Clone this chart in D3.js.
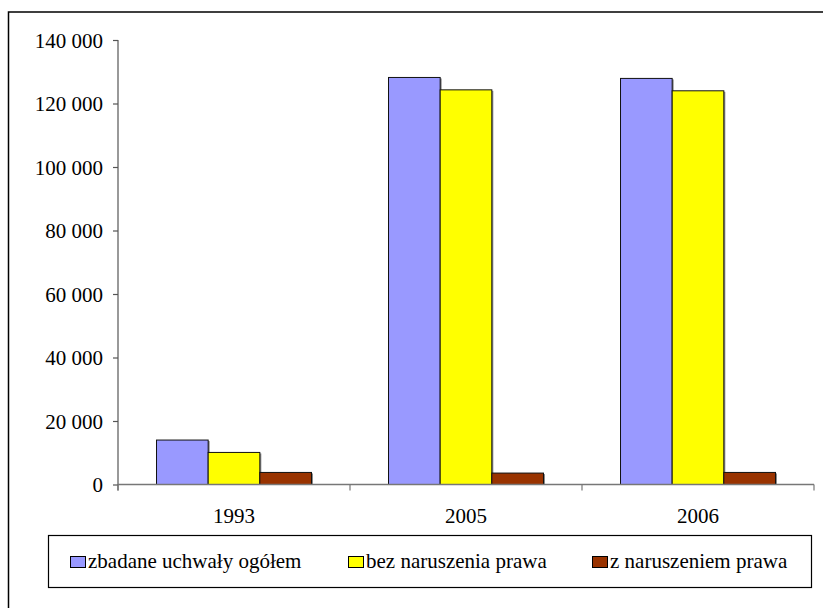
<!DOCTYPE html>
<html>
<head>
<meta charset="utf-8">
<script src="https://cdn.jsdelivr.net/npm/d3@7"></script>
<style>
  html, body { margin: 0; padding: 0; background: #fff; }
  svg { display: block; }
  svg text { font-family: "Times New Roman", Times, "Liberation Serif", Tinos, "Noto Serif", "DejaVu Serif", serif !important; fill: #000; }
</style>
</head>
<body>
<svg id="chart" width="823" height="608"></svg>
<script>
// ---- data ----
const categories = ["1993", "2005", "2006"];
const seriesNames = ["zbadane uchwały ogółem", "bez naruszenia prawa", "z naruszeniem prawa"];
const ogolem = [14000, 128200, 127900];
const bezNaruszenia = [10100, 124300, 124000];
const zNaruszeniem = [3800, 3600, 3800];
const yTicks = [0, 20000, 40000, 60000, 80000, 100000, 120000, 140000];
const colors = ["#9999FF", "#FFFF00", "#993300"];

const seriesValues = [ogolem, bezNaruszenia, zNaruszeniem];
const FONT = '"Times New Roman", Times, "Liberation Serif", Tinos, "Noto Serif", "DejaVu Serif", serif';

const svg = d3.select("#chart");

// outer frame (extends past the picture)
svg.append("rect")
  .attr("x", 8.5).attr("y", 12)
  .attr("width", 900).attr("height", 700)
  .attr("fill", "none").attr("stroke", "#000").attr("stroke-width", 1.5);

const plot = { left: 118, right: 814, top: 40, bottom: 484.5 };

const y = d3.scaleLinear().domain([0, 140000]).range([plot.bottom, plot.top]);
const x0 = d3.scaleBand().domain(categories).range([plot.left, plot.right]).padding(0);
const groupW = x0.bandwidth() * 0.668;
const x1 = d3.scaleBand().domain(d3.range(seriesNames.length)).range([0, groupW]).padding(0);
const groupOffset = (x0.bandwidth() - groupW) / 2;

const loc = d3.formatLocale({ decimal: ",", thousands: "\u00a0", grouping: [3], currency: ["", " zł"] });
const fmt = loc.format(",d");

// bars
const groups = svg.append("g").selectAll("g")
  .data(categories)
  .join("g")
  .attr("transform", c => `translate(${x0(c) + groupOffset},0)`);

groups.each(function (c, ci) {
  const g = d3.select(this);
  const data = seriesValues.map((vals, si) => ({ si, v: vals[ci] }));
  g.selectAll("rect.shadow").data(data).join("rect")
    .attr("class", "shadow")
    .attr("x", d => x1(d.si) + 1.5)
    .attr("y", d => y(d.v) + 1)
    .attr("width", x1.bandwidth())
    .attr("height", d => y(0) - y(d.v) - 1)
    .attr("fill", "#8a8a8a");
  g.selectAll("rect.bar").data(data).join("rect")
    .attr("class", "bar")
    .attr("x", d => x1(d.si))
    .attr("y", d => y(d.v))
    .attr("width", x1.bandwidth())
    .attr("height", d => y(0) - y(d.v))
    .attr("fill", d => colors[d.si])
    .attr("stroke", "#111")
    .attr("stroke-width", 1);
});

// y axis
const yAxis = d3.axisLeft(y)
  .tickValues(yTicks)
  .tickSize(5)
  .tickPadding(10)
  .tickFormat(fmt);
const yg = svg.append("g")
  .attr("transform", `translate(${plot.left},0)`)
  .call(yAxis)
  .attr("font-family", FONT)
  .attr("font-size", 21);
yg.select(".domain").remove();
yg.selectAll(".tick line").attr("stroke", "#555").attr("stroke-width", 1.2);
yg.selectAll(".tick text").attr("fill", "#000").attr("dy", "0.34em");
yg.append("line")
  .attr("x1", 0).attr("x2", 0)
  .attr("y1", plot.top).attr("y2", plot.bottom + 6)
  .attr("stroke", "#555").attr("stroke-width", 1.2);

// x axis
const xg = svg.append("g").attr("font-family", FONT);
xg.append("line")
  .attr("x1", plot.left).attr("x2", plot.right)
  .attr("y1", plot.bottom).attr("y2", plot.bottom)
  .attr("stroke", "#777").attr("stroke-width", 1.5);
const boundaries = categories.map(c => x0(c)).concat([x0(categories[categories.length - 1]) + x0.bandwidth()]);
xg.selectAll("line.tick").data(boundaries).join("line")
  .attr("class", "tick")
  .attr("x1", d => d).attr("x2", d => d)
  .attr("y1", plot.bottom).attr("y2", plot.bottom + 6)
  .attr("stroke", "#777").attr("stroke-width", 1.2);
xg.selectAll("text").data(categories).join("text")
  .attr("x", c => x0(c) + x0.bandwidth() / 2)
  .attr("y", 523)
  .attr("text-anchor", "middle")
  .attr("font-size", 21)
  .text(c => c);

// legend
const legend = svg.append("g").attr("font-family", FONT);
legend.append("rect")
  .attr("x", 48.5).attr("y", 535.5)
  .attr("width", 763).attr("height", 52)
  .attr("fill", "#fff").attr("stroke", "#000").attr("stroke-width", 1.2);
const legendX = [70, 348, 592];
const items = legend.selectAll("g.item").data(seriesNames).join("g")
  .attr("class", "item")
  .attr("transform", (d, i) => `translate(${legendX[i]},0)`);
items.append("rect")
  .attr("x", 0.5).attr("y", 556.5)
  .attr("width", 15).attr("height", 11)
  .attr("fill", (d, i) => colors[i])
  .attr("stroke", "#000").attr("stroke-width", 1);
items.append("text")
  .attr("x", 18).attr("y", 568)
  .attr("font-size", 21)
  .text(d => d);
</script>
</body>
</html>
